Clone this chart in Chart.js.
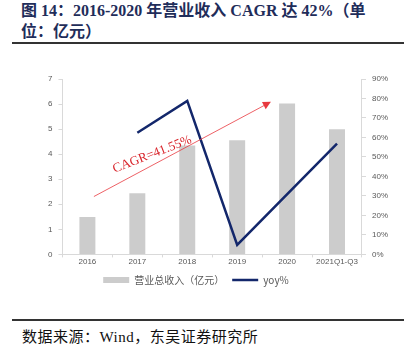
<!DOCTYPE html>
<html>
<head>
<meta charset="utf-8">
<script src="https://cdn.jsdelivr.net/npm/chart.js@4.4.0/dist/chart.umd.min.js"></script>
<style>
  html, body { margin: 0; padding: 0; background: #fff; }
  body { width: 417px; height: 354px; position: relative; overflow: hidden; }
  .title {
    position: absolute; left: 21px; top: 0px; width: 394px;
    font-family: "Liberation Serif", "Noto Sans CJK SC", serif;
    font-weight: bold; font-size: 16px; line-height: 21px; color: #1f2d5a;
  }
  .rule { position: absolute; left: 12px; width: 392px; height: 2px; background: #333; }
  .source {
    position: absolute; left: 22px; top: 325px;
    font-family: "Liberation Serif", "Noto Sans CJK SC", serif;
    font-size: 15px; letter-spacing: 0.5px; color: #111;
  }
  #wrap { position: absolute; left: 0; top: 60px; width: 417px; height: 240px; }
</style>
</head>
<body>
<div class="title">图 14：2016-2020 年营业收入 CAGR 达 42%（单<br>位：亿元）</div>
<div class="rule" style="top:42px"></div>
<div id="wrap"><canvas id="chart"></canvas></div>
<div class="rule" style="top:319px"></div>
<div class="source">数据来源：Wind，东吴证券研究所</div>
<script>
const years = ['2016', '2017', '2018', '2019', '2020', '2021Q1-Q3'];
const revenue = [1.49, 2.44, 4.35, 4.56, 6.02, 4.99];
const yoy = [null, 62.4, 78.8, 4.9, null, 56.9];
const cagrText = 'CAGR=41.55%';
// arrow ends in (category index, left-axis value)
const cagrFrom = [0.13, 2.31];
const cagrTo = [3.64, 6.05];

const cagrArrow = {
    id: 'cagrArrow',
    afterDatasetsDraw(chart) {
        const { ctx, scales: { x, y } } = chart;
        const x1 = x.getPixelForValue(cagrFrom[0]);
        const y1 = y.getPixelForValue(cagrFrom[1]);
        const x2 = x.getPixelForValue(cagrTo[0]);
        const y2 = y.getPixelForValue(cagrTo[1]);
        const ang = Math.atan2(y2 - y1, x2 - x1);
        ctx.save();
        ctx.strokeStyle = '#e8393f';
        ctx.fillStyle = '#e8393f';
        ctx.lineWidth = 0.8;
        ctx.beginPath();
        ctx.moveTo(x1, y1);
        ctx.lineTo(x2, y2);
        ctx.stroke();
        ctx.translate(x2, y2);
        ctx.rotate(ang);
        ctx.beginPath();
        ctx.moveTo(2, 0);
        ctx.lineTo(-6, -4);
        ctx.lineTo(-6, 4);
        ctx.closePath();
        ctx.fill();
        ctx.restore();

        // label sits just above the arrow, a little flatter than it
        ctx.save();
        ctx.fillStyle = '#d9252c';
        ctx.font = '13px "Liberation Serif", serif';
        ctx.textAlign = 'center';
        ctx.textBaseline = 'alphabetic';
        const mx = x1 + (x2 - x1) * 0.34;
        const my = y1 + (y2 - y1) * 0.34 - 7;
        ctx.translate(mx, my);
        ctx.rotate(-0.37);
        ctx.fillText(cagrText, 0, 0);
        ctx.restore();
    }
};

// the legend sits a bit left of the plot centre in the original
const legendShift = {
    id: 'legendShift',
    afterLayout(chart) {
        chart.legend.left -= 22;
        chart.legend.right -= 22;
    }
};

new Chart(document.getElementById('chart'), {
    type: 'bar',
    data: {
        labels: years,
        datasets: [
            {
                type: 'line',
                label: 'yoy%',
                data: yoy,
                yAxisID: 'y1',
                borderColor: '#13276b',
                backgroundColor: '#13276b',
                borderWidth: 2.5,
                pointRadius: 0,
                pointStyle: 'line',
                spanGaps: true,
                tension: 0,
                order: 1
            },
            {
                label: '营业总收入（亿元）',
                data: revenue,
                yAxisID: 'y',
                backgroundColor: '#cccccc',
                pointStyle: 'rect',
                categoryPercentage: 1,
                barPercentage: 0.32,
                order: 2
            }
        ]
    },
    options: {
        responsive: true,
        maintainAspectRatio: false,
        animation: false,
        layout: { padding: { left: 42, right: 23, top: 19, bottom: 5 } },
        plugins: {
            legend: {
                position: 'bottom',
                reverse: true,
                labels: {
                    usePointStyle: true,
                    pointStyleWidth: 26,
                    boxHeight: 6,
                    color: '#595959',
                    font: { size: 10, family: '"Noto Sans CJK SC", sans-serif' },
                    padding: 8
                }
            },
            tooltip: { enabled: false }
        },
        scales: {
            x: {
                grid: { display: true, drawOnChartArea: false, offset: true, color: '#d9d9d9', tickLength: 3 },
                border: { color: '#d9d9d9' },
                ticks: { color: '#595959', font: { size: 8, family: '"Liberation Sans", sans-serif' }, padding: 0 }
            },
            y: {
                position: 'left',
                min: 0, max: 7,
                ticks: { stepSize: 1, color: '#595959', font: { size: 8, family: '"Liberation Sans", sans-serif' }, padding: 6 },
                grid: { drawOnChartArea: false, color: '#d9d9d9', tickLength: 4 },
                border: { color: '#d9d9d9' }
            },
            y1: {
                position: 'right',
                min: 0, max: 90,
                ticks: { stepSize: 10, callback: v => v + '%', color: '#595959', font: { size: 8, family: '"Liberation Sans", sans-serif' }, padding: 6 },
                grid: { drawOnChartArea: false, color: '#d9d9d9', tickLength: 4 },
                border: { color: '#d9d9d9' }
            }
        }
    },
    plugins: [cagrArrow, legendShift]
});
</script>
</body>
</html>
